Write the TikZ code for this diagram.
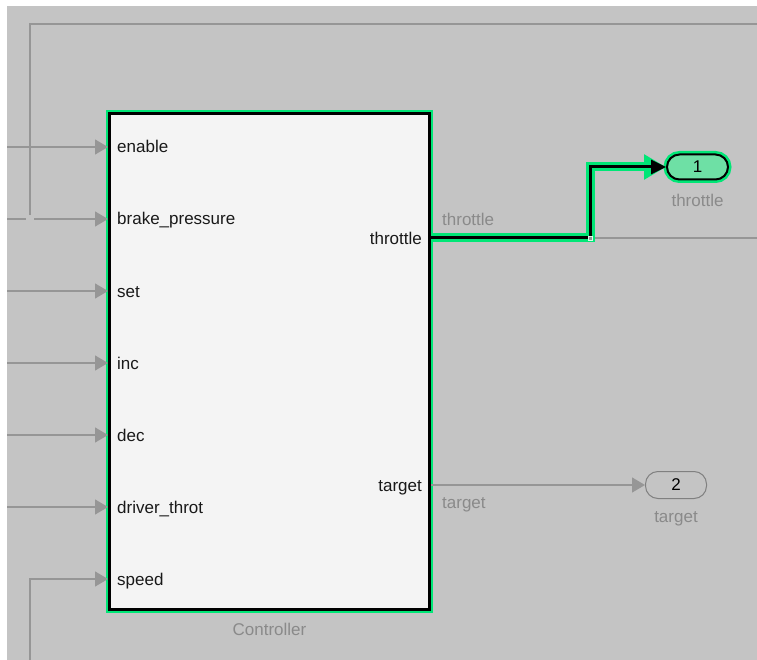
\documentclass[tikz,border=0pt]{standalone}
\usepackage{fontspec}
\setmainfont{Liberation Sans}
\usetikzlibrary{positioning}
\usetikzlibrary{arrows.meta}

\definecolor{canvasgray}{RGB}{196,196,196}
\definecolor{wiregray}{RGB}{150,150,150}
\definecolor{textgray}{RGB}{138,138,138}
\definecolor{blockfill}{RGB}{244,244,244}
\definecolor{hilite}{RGB}{0,230,118}
\definecolor{portgreen}{RGB}{110,224,165}

\tikzset{
    wire/.style={wiregray, line width=1.3pt},
    inwire/.style={wire, -{Triangle[length=13pt,width=15pt]}},
    glowwire/.style={hilite, line width=9pt, -{Triangle[length=22pt,width=24pt]}},
    corewire/.style={black, line width=3pt, -{Triangle[length=15pt,width=14pt]}},
    portlbl/.style={font=\fontsize{17}{20}\selectfont, text=black!90, inner sep=0pt, text height=12pt, text depth=0pt},
    siglbl/.style={font=\fontsize{17}{20}\selectfont, text=textgray, inner sep=0pt},
    outport/.style={rounded corners=12.5pt, minimum width=61pt, minimum height=25pt, inner sep=0pt, font=\fontsize{17}{20}\selectfont}
}

\begin{document}
\begin{tikzpicture}[x=1pt, y=-1pt]
    \useasboundingbox (0,0) rectangle (757,660);
    \fill[canvasgray] (7,6) rectangle (757,660);

    % controller block
    \node [draw=black, line width=3pt, fill=blockfill, preaction={draw=hilite, line width=7pt},
           minimum width=320pt, minimum height=496pt, inner sep=0pt] (ctrl) at (269.5,361.5) {};
    \node [siglbl, below=12pt of ctrl] (ctrlname) {Controller};

    \node [portlbl, anchor=west] (enable) at (117,147) {enable};
    \node [portlbl, anchor=west] (brake) at (117,219) {brake\_pressure};
    \node [portlbl, anchor=west] (set) at (117,291) {set};
    \node [portlbl, anchor=west] (inc) at (117,363) {inc};
    \node [portlbl, anchor=west] (dec) at (117,435) {dec};
    \node [portlbl, anchor=west] (drvthrot) at (117,507) {driver\_throt};
    \node [portlbl, anchor=west] (speed) at (117,579) {speed};

    \node [portlbl, anchor=east] (throttleout) at (422,238) {throttle};
    \node [portlbl, anchor=east] (targetout) at (422,485) {target};

    % outports
    \node [outport, draw=black, line width=2pt, fill=portgreen, preaction={draw=hilite, line width=7pt}] (out1) at (697.5,167) {1};
    \node [siglbl, below=13pt of out1] (out1name) {throttle};
    \node [outport, draw=wiregray!85!black, line width=1pt, minimum height=27pt] (out2) at (676,485) {2};
    \node [siglbl, below=12pt of out2] (out2name) {target};

    % incoming signals
    \coordinate (enablesrc) at (7,147);
    \coordinate (brakesrc) at (7,219);
    \coordinate (brakegapl) at (26,219);
    \coordinate (brakegapr) at (34,219);
    \coordinate (setsrc) at (7,291);
    \coordinate (incsrc) at (7,363);
    \coordinate (decsrc) at (7,435);
    \coordinate (drvsrc) at (7,507);
    \coordinate (speedsrc) at (30,660);
    \coordinate (looptop) at (757,24);
    \coordinate (loopcorner) at (30,24);
    \coordinate (loopend) at (30,215);

    \draw [wire] (looptop) -- (loopcorner) -- (loopend);
    \draw [inwire] (enablesrc) -- (enable.west -| ctrl.west);
    \draw [wire] (brakesrc) -- (brakegapl);
    \draw [inwire] (brakegapr) -- (brake.west -| ctrl.west);
    \draw [inwire] (setsrc) -- (set.west -| ctrl.west);
    \draw [inwire] (incsrc) -- (inc.west -| ctrl.west);
    \draw [inwire] (decsrc) -- (dec.west -| ctrl.west);
    \draw [inwire] (drvsrc) -- (drvthrot.west -| ctrl.west);
    \draw [inwire] (speedsrc) |- (speed.west -| ctrl.west);

    % outgoing signals
    \coordinate (junc) at (590,238);
    \coordinate (branchend) at (757,238);
    \draw [wire] (junc) -- (branchend);
    \draw [glowwire] (throttleout.east -| ctrl.east) -- (junc) |- (out1.west);
    \draw [corewire] (throttleout.east -| ctrl.east) -- (junc) |- (out1.west);
    \node [draw=white!85!hilite, line width=0.8pt, fill=wiregray, minimum size=4pt, inner sep=0pt] (juncdot) at (junc) {};
    \draw [inwire] (targetout.east -| ctrl.east) -- (out2.west);

    \node [siglbl, anchor=base west] (throttlesig) at (442,226) {throttle};
    \node [siglbl, anchor=base west] (targetsig) at (442,508) {target};

\end{tikzpicture}
\end{document}
